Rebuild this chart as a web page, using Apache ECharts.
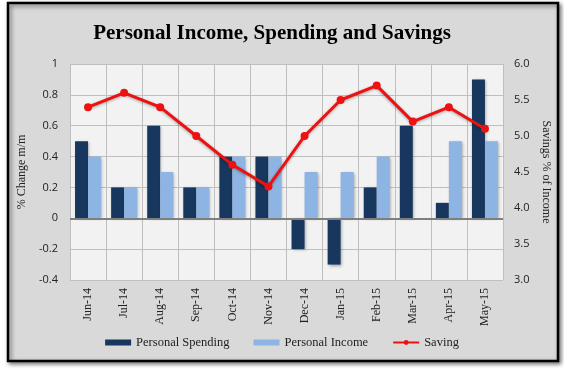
<!DOCTYPE html>
<html><head><meta charset="utf-8">
<script src="https://cdn.jsdelivr.net/npm/echarts@6/dist/echarts.min.js"></script>
<style>html,body{margin:0;padding:0;background:#fff;}#c{width:564px;height:371px;}</style>
</head><body><div id="c"></div>
<script>
var categories = ['Jun-14','Jul-14','Aug-14','Sep-14','Oct-14','Nov-14','Dec-14','Jan-15','Feb-15','Mar-15','Apr-15','May-15'];
var spending = [0.5, 0.2, 0.6, 0.2, 0.4, 0.4, -0.2, -0.3, 0.2, 0.6, 0.1, 0.9];
var income = [0.4, 0.2, 0.3, 0.2, 0.4, 0.4, 0.3, 0.3, 0.4, 0, 0.5, 0.5];
var saving = [5.4, 5.6, 5.4, 5.0, 4.6, 4.3, 5.0, 5.5, 5.7, 5.2, 5.4, 5.1];

var chart = echarts.init(document.getElementById('c'));
var serif = '"Liberation Serif", "DejaVu Serif", serif';
var sans = '"Open Sans", "Liberation Sans", sans-serif';
chart.setOption({
  animation: false,
  graphic: [{
    type: 'rect', z: -10, silent: true,
    shape: {x: 8, y: 3, width: 550, height: 358},
    style: {fill: '#d9d9d9', stroke: '#000', lineWidth: 2.5, shadowBlur: 4, shadowColor: 'rgba(0,0,0,0.5)', shadowOffsetX: 2, shadowOffsetY: 2}
  }],
  title: {
    text: 'Personal Income, Spending and Savings', left: 267, textAlign: 'center', top: 18,
    textStyle: {fontFamily: serif, fontWeight: 'bold', fontSize: 21, color: '#000'}
  },
  legend: {
    bottom: 17, left: 'center', itemGap: 24, itemWidth: 26, itemHeight: 6,
    textStyle: {fontFamily: serif, fontSize: 12.5, color: '#222'},
    data: [
      {name: 'Personal Spending', icon: 'rect'},
      {name: 'Personal Income', icon: 'rect'},
      {name: 'Saving'}
    ]
  },
  grid: {left: 70, right: 61, top: 64, bottom: 91, show: true, backgroundColor: '#f2f2f2', borderWidth: 0},
  xAxis: {
    type: 'category', data: categories,
    axisLine: {show: false}, axisTick: {show: false},
    splitLine: {show: true, lineStyle: {color: '#bfbfbf', width: 1}},
    axisLabel: {rotate: 90, fontFamily: serif, fontSize: 12, color: '#222', margin: 8, interval: 0}
  },
  yAxis: [{
    type: 'value', min: -0.4, max: 1, interval: 0.2, position: 'left',
    name: '% Change m/m', nameLocation: 'middle', nameGap: 38, nameRotate: 90,
    nameTextStyle: {fontFamily: serif, fontSize: 12, color: '#222'},
    axisLine: {show: false}, axisTick: {show: false},
    splitLine: {show: true, lineStyle: {color: '#bfbfbf', width: 1}},
    axisLabel: {fontFamily: sans, fontSize: 11, color: '#222', margin: 12,
      formatter: function(v){ return Math.round(v*10)/10 + ''; }}
  }, {
    type: 'value', min: 3, max: 6, interval: 0.5, position: 'right',
    name: 'Savings % of Income', nameLocation: 'middle', nameGap: 36, nameRotate: -90,
    nameTextStyle: {fontFamily: serif, fontSize: 12, color: '#222'},
    axisLine: {show: false}, axisTick: {show: false}, splitLine: {show: false},
    axisLabel: {fontFamily: sans, fontSize: 11, color: '#222', margin: 11,
      formatter: function(v){ return v.toFixed(1); }}
  }],
  series: [{
    name: 'Personal Spending', type: 'bar', data: spending, barWidth: 13, barGap: '0%',
    itemStyle: {color: '#17375e', shadowBlur: 3, shadowColor: 'rgba(0,0,0,0.35)', shadowOffsetX: 1, shadowOffsetY: 1},
    markLine: {silent: true, symbol: 'none', label: {show: false}, lineStyle: {color: '#7f7f7f', width: 2, type: 'solid'}, data: [{yAxis: 0}]}
  }, {
    name: 'Personal Income', type: 'bar', data: income, barWidth: 13,
    itemStyle: {color: '#8db4e2', shadowBlur: 3, shadowColor: 'rgba(0,0,0,0.35)', shadowOffsetX: 1, shadowOffsetY: 1}
  }, {
    name: 'Saving', type: 'line', yAxisIndex: 1, data: saving,
    symbol: 'circle', symbolSize: 8,
    lineStyle: {color: '#ee1111', width: 3, shadowBlur: 3, shadowColor: 'rgba(0,0,0,0.35)', shadowOffsetY: 1},
    itemStyle: {color: '#ee1111'}, z: 5
  }]
});
</script></body></html>
